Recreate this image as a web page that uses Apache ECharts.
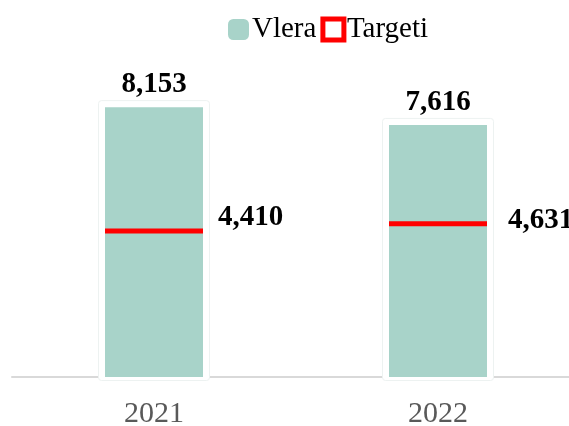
<!DOCTYPE html>
<html>
<head>
<meta charset="utf-8">
<script src="https://cdn.jsdelivr.net/npm/echarts@6/dist/echarts.min.js"></script>
<style>
  html, body { margin: 0; padding: 0; background: #fff; }
  #chart { width: 569px; height: 426px; }
</style>
</head>
<body>
<div id="chart"></div>
<script>
// Categories and values
const years = ['2021', '2022'];
const vlera = [8153, 7616];
const targeti = [4410, 4631];

// Target label placement (per year)
const targetLabelOffsets = [[0, -14], [0, -3]];
const targetLabelDistances = [15, 21];

const serif = '"Liberation Serif", "Times New Roman", serif';
const fmt = v => v.toLocaleString('en-US');

const BAR_W = 98;   // filled bar width
const FRAME = 6;    // white frame around each bar

const labelStyle = {
  fontFamily: serif,
  fontWeight: 'bold',
  fontSize: 29,
  color: '#000',
  opacity: 1
};

const chart = echarts.init(document.getElementById('chart'), null, { renderer: 'canvas' });

chart.setOption({
  animation: false,
  backgroundColor: '#ffffff',
  legend: {
    left: 228,
    top: 15,
    padding: 0,
    itemWidth: 21,
    itemHeight: 21,
    itemGap: 4,
    textStyle: { fontFamily: serif, fontSize: 29, color: '#000', padding: [0, 0, 0, -2] },
    data: [
      { name: 'Vlera', icon: 'roundRect', itemStyle: { color: '#A8D3C9', opacity: 1 } },
      { name: 'Targeti', icon: 'rect', itemStyle: { color: '#fff', borderColor: '#FF0000', borderWidth: 5, opacity: 1 } }
    ]
  },
  grid: { left: 12, top: 46, right: -11, height: 331, outerBoundsMode: 'none', containLabel: false },
  xAxis: {
    type: 'category',
    data: years,
    axisLine: { show: true, lineStyle: { color: '#D9D9D9', width: 2 } },
    axisTick: { show: false },
    axisLabel: { fontFamily: serif, fontSize: 30, color: '#595959', margin: 22 }
  },
  yAxis: {
    type: 'value',
    min: 0,
    max: 10000,
    show: false,
    splitLine: { show: false }
  },
  series: [
    {
      // white frame with a faint outline behind each bar
      name: 'frame',
      type: 'custom',
      silent: true,
      z: 1,
      data: vlera.map((v, i) => [i, v]),
      renderItem: (params, api) => {
        const top = api.coord([api.value(0), api.value(1)]);
        const base = api.coord([api.value(0), 0]);
        return {
          type: 'rect',
          shape: {
            x: top[0] - BAR_W / 2 - FRAME - 0.5,
            y: top[1] - FRAME - 0.5,
            width: BAR_W + FRAME * 2 + 1,
            height: base[1] - top[1] + FRAME + 4,
            r: 3
          },
          style: { fill: '#ffffff', stroke: '#EDF2F1', lineWidth: 1 }
        };
      }
    },
    {
      name: 'Vlera',
      type: 'bar',
      data: vlera,
      barWidth: BAR_W,
      itemStyle: { color: '#A8D3C9' },
      label: Object.assign({
        show: true,
        position: 'top',
        distance: 8,
        formatter: p => fmt(p.value)
      }, labelStyle),
      z: 2
    },
    {
      name: 'Targeti',
      type: 'scatter',
      symbol: 'rect',
      symbolSize: [BAR_W, 5],
      itemStyle: { color: '#FF0000', opacity: 1 },
      data: targeti.map((v, i) => ({
        value: v,
        label: { offset: targetLabelOffsets[i], distance: targetLabelDistances[i] }
      })),
      label: Object.assign({
        show: true,
        position: 'right',
        formatter: p => fmt(p.value)
      }, labelStyle),
      z: 3
    }
  ]
});
</script>
</body>
</html>
